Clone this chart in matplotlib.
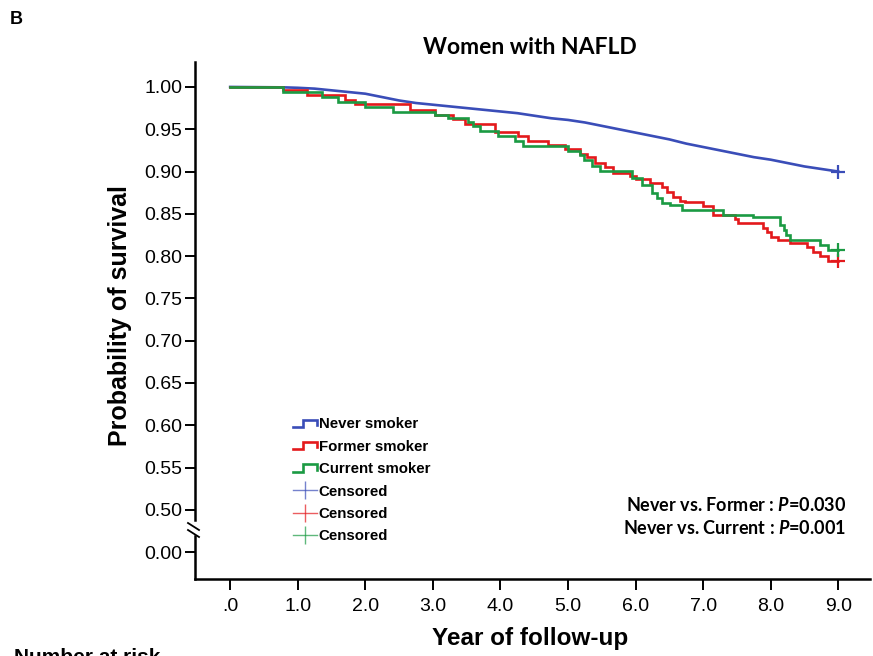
"""Kaplan-Meier style survival plot, women with NAFLD, by smoking status."""
import matplotlib
matplotlib.use("Agg")
import matplotlib.pyplot as plt
from matplotlib.lines import Line2D
from matplotlib.legend_handler import HandlerBase

plt.rcParams["font.family"] = ["Liberation Sans", "DejaVu Sans"]
plt.rcParams["mathtext.fontset"] = "custom"
plt.rcParams["mathtext.it"] = "Lato:italic:bold"
plt.rcParams["mathtext.rm"] = "Lato:bold"

BLUE, RED, GREEN = "#3a4db8", "#e3191c", "#1b9a43"

# ============ Data ============
never_t = [0.00, 0.80, 1.00, 1.25, 1.50, 1.75, 2.00, 2.25, 2.50, 2.75, 3.00, 3.25,
           3.50, 3.75, 4.00, 4.25, 4.50, 4.75, 5.00, 5.25, 5.50, 5.75, 6.00, 6.25,
           6.50, 6.75, 7.00, 7.25, 7.50, 7.75, 8.00, 8.25, 8.50, 8.75, 9.00]
never_s = [1.000, 0.9995, 0.999, 0.998, 0.996, 0.994, 0.992, 0.988, 0.984, 0.981, 0.979, 0.977,
           0.975, 0.973, 0.971, 0.969, 0.966, 0.963, 0.961, 0.958, 0.954, 0.950, 0.946, 0.942,
           0.938, 0.933, 0.929, 0.925, 0.921, 0.917, 0.914, 0.910, 0.906, 0.903, 0.900]

former_t = [0.00, 0.78, 1.13, 1.70, 1.85, 2.66, 3.03, 3.30, 3.48, 3.92, 4.26, 4.41,
            4.71, 4.96, 5.18, 5.28, 5.40, 5.55, 5.67, 5.92, 6.00, 6.21, 6.39, 6.46,
            6.56, 6.66, 6.73, 7.00, 7.14, 7.47, 7.52, 7.89, 7.94, 8.01, 8.11, 8.28,
            8.53, 8.63, 8.73, 8.85, 9.00]
former_s = [1.000, 0.9965, 0.9905, 0.985, 0.980, 0.973, 0.967, 0.962, 0.956, 0.947, 0.942, 0.9365,
            0.9315, 0.9264, 0.921, 0.917, 0.9105, 0.905, 0.898, 0.895, 0.891, 0.887, 0.882, 0.876,
            0.870, 0.8656, 0.864, 0.859, 0.849, 0.844, 0.839, 0.833, 0.828, 0.823, 0.8196, 0.815,
            0.8105, 0.805, 0.800, 0.7947, 0.7947]

current_t = [0.00, 0.78, 1.36, 1.60, 2.00, 2.41, 3.03, 3.23, 3.52, 3.60, 3.70, 3.97,
             4.22, 4.34, 5.00, 5.18, 5.23, 5.35, 5.47, 5.94, 6.09, 6.24, 6.31, 6.39,
             6.51, 6.68, 7.29, 7.74, 8.14, 8.19, 8.22, 8.28, 8.73, 8.85, 9.00]
current_s = [1.000, 0.9937, 0.9886, 0.9826, 0.9767, 0.970, 0.967, 0.963, 0.959, 0.954, 0.948, 0.9425,
             0.9365, 0.930, 0.9247, 0.9196, 0.9137, 0.9066, 0.901, 0.892, 0.884, 0.8745, 0.8685, 0.8625,
             0.8605, 0.854, 0.8487, 0.8457, 0.8369, 0.831, 0.825, 0.8196, 0.8133, 0.807, 0.807]

groups = ["Never smoker", "Former smoker", "Current smoker"]
colors = [BLUE, RED, GREEN]
x_ticks = [0, 1, 2, 3, 4, 5, 6, 7, 8, 9]
x_ticklabels = [".0", "1.0", "2.0", "3.0", "4.0", "5.0", "6.0", "7.0", "8.0", "9.0"]
y_ticks = [0.50, 0.55, 0.60, 0.65, 0.70, 0.75, 0.80, 0.85, 0.90, 0.95, 1.00]
p_lines = ["Never vs. Former : $P$=0.030", "Never vs. Current : $P$=0.001"]


class StepHandler(HandlerBase):
    """legend icon that looks like a little survival step"""
    def create_artists(self, legend, orig, xd, yd, w, h, fs, trans):
        x0, y0 = -xd, -yd
        xs = [x0, x0 + 0.45 * w, x0 + 0.45 * w, x0 + w, x0 + w]
        ys = [y0 + 0.15 * h, y0 + 0.15 * h, y0 + 0.85 * h, y0 + 0.85 * h, y0 + 0.35 * h]
        ln = Line2D(xs, ys, color=orig.get_color(), lw=orig.get_linewidth(),
                    solid_joinstyle="miter")
        ln.set_transform(trans)
        return [ln]


fig = plt.figure(figsize=(8.73, 6.56), dpi=100)
ax = fig.add_axes([0.2234, 0.2073, 0.7732, 0.6982])
axb = fig.add_axes([0.2234, 0.1174, 0.7732, 0.0655], sharex=ax)

series = [(never_t, never_s), (former_t, former_s), (current_t, current_s)]
handles = []
for i, ((t, s), c, name) in enumerate(zip(series, colors, groups)):
    # never-smoker group is large, so its many tiny steps read as a smooth line
    style = "default" if i == 0 else "steps-post"
    ln, = ax.plot(t, s, drawstyle=style, color=c, lw=1.9, solid_joinstyle="miter")
    ax.plot(t[-1], s[-1], marker="+", ms=10, mew=1.6, color=c, clip_on=False)
    handles.append(ln)
cens = [Line2D([], [], color=c, lw=1, alpha=0.7, marker="|", ms=13, mew=1) for c in colors]

ax.set_xlim(-0.52, 9.47)
ax.set_ylim(0.488, 1.0295)
axb.set_ylim(-0.0319, 0.0189)

for a in (ax, axb):
    for side in ("top", "right"):
        a.spines[side].set_visible(False)
    a.spines["left"].set_linewidth(1.8)
    a.tick_params(axis="y", direction="out", length=7, width=1.4, labelsize=14, pad=2)
ax.spines["bottom"].set_visible(False)
ax.tick_params(axis="x", bottom=False, labelbottom=False)
ax.set_yticks(y_ticks)
ax.set_yticklabels([f"{v:.2f}" for v in y_ticks])
axb.set_yticks([0.0])
axb.set_yticklabels(["0.00"])
axb.spines["bottom"].set_linewidth(1.8)
axb.set_xticks(x_ticks)
axb.set_xticklabels(x_ticklabels)
axb.tick_params(axis="x", direction="out", length=8, width=1.4, labelsize=14, pad=6)
axb.patch.set_alpha(0)

# axis break marks "\\" between 0.50 and 0.00
for y0 in (523, 530):
    fig.add_artist(Line2D([188 / 873, 199 / 873], [1 - y0 / 656, 1 - (y0 + 7) / 656],
                          color="black", lw=1.3, transform=fig.transFigure))

fig.legend(handles + cens, groups + ["Censored"] * 3,
           handler_map={h: StepHandler() for h in handles},
           loc="upper left", bbox_to_anchor=(285 / 873, 1 - 410 / 656),
           frameon=False, numpoints=1, handlelength=1.6, handletextpad=0.15,
           labelspacing=0.56, borderpad=0,
           prop={"family": "Liberation Sans", "weight": "bold", "size": 10.8})

for i, txt in enumerate(p_lines):
    fig.text(846 / 873, 1 - (505 + 23 * i) / 656, txt, ha="right", va="center",
             fontsize=13, family="Lato", fontweight="bold")

fig.text(530 / 873, 1 - 47 / 656, "Women with NAFLD", ha="center", va="center",
         fontsize=16.5, family="Lato", fontweight="bold")
fig.text(120 / 873, 1 - 316 / 656, "Probability of survival", rotation=90,
         ha="center", va="center", fontsize=18, fontweight="bold")
fig.text(530 / 873, 1 - 639 / 656, "Year of follow-up", ha="center", va="center",
         fontsize=17.5, fontweight="bold")
fig.text(10 / 873, 1 - 20 / 656, "B", ha="left", va="center", fontsize=13, fontweight="bold")
fig.text(14 / 873, 1 - 648 / 656, "Number at risk", ha="left", va="top",
         fontsize=15, fontweight="bold")

fig.savefig("out.png", dpi=100)
